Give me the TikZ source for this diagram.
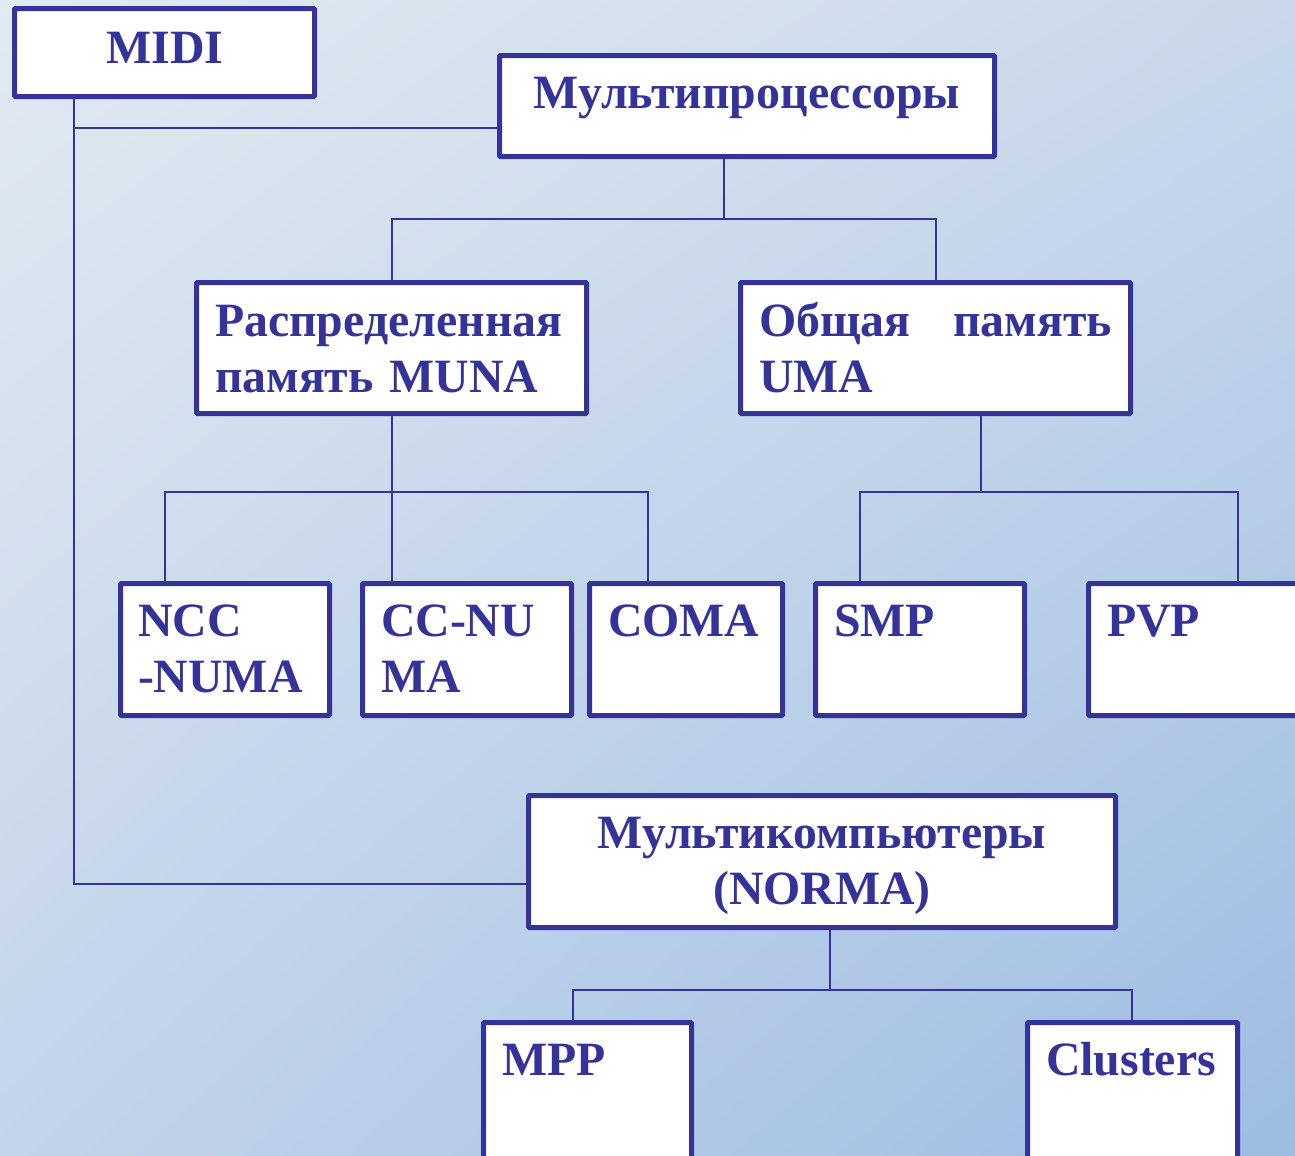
\documentclass[tikz,border=0pt]{standalone}
\usepackage{fontspec}
\setmainfont{Liberation Serif}
\usetikzlibrary{shadings}
\definecolor{ink}{HTML}{333399}
\definecolor{bgA}{HTML}{E2EAF2}
\definecolor{bgB}{HTML}{C9D8EA}
\definecolor{bgC}{HTML}{C3D4E9}
\definecolor{bgD}{HTML}{9CBCE2}
\pgfdeclarelayer{back}
\pgfdeclarelayer{lines}
\pgfsetlayers{back,lines,main}
\newcommand{\dbox}[5]{\node[boxst, anchor=north west, minimum width={(#4-#2-5)*1bp}, minimum height={(#5-#3-5)*1bp}] (#1) at ({#2+2.5},{#3+2.5}) {};}
\begin{document}
\begin{tikzpicture}[x=1bp,y=-1bp,
  boxst/.style={draw=ink, fill=white, line width=5bp, inner sep=0pt, outer sep=0pt, rounded corners=1bp},
  conn/.style={draw=ink, line width=2bp},
  txt/.style={text=ink, inner sep=0pt, outer sep=0pt, anchor=base west, align=left, text width=600bp,
    font=\fontsize{48}{57}\selectfont\bfseries},
  ctxt/.style={txt, anchor=base, align=center}]
\useasboundingbox (0,0) rectangle (1295,1156);
\clip (0,0) rectangle (1295,1156);
\begin{pgfonlayer}{back}
\shade[upper left=bgA, upper right=bgB, lower left=bgC, lower right=bgD] (0,0) rectangle (1295,1156);
\end{pgfonlayer}

% junction coordinates
\coordinate (a1) at (74,884);
\coordinate (a2) at (74,128);
\coordinate (b1) at (724,219);
\coordinate (c1) at (392,492);
\coordinate (d1) at (165,0);
\coordinate (d3) at (648,0);
\coordinate (e1) at (981,492);
\coordinate (e2) at (860,0);
\coordinate (e3) at (1238,0);
\coordinate (f1) at (830,990);
\coordinate (f2) at (573,0);
\coordinate (f3) at (1132,0);

% boxes
\dbox{midi}{12}{6}{317}{99}
\dbox{mp}{497}{53}{997}{159}
\dbox{rasp}{194}{280}{589}{416}
\dbox{obsh}{738}{280}{1133}{416}
\dbox{ncc}{118}{581}{332}{718}
\dbox{ccnu}{360}{581}{574}{718}
\dbox{coma}{587}{581}{785}{718}
\dbox{smp}{813}{581}{1027}{718}
\dbox{pvp}{1086}{581}{1305}{718}
\dbox{mc}{526}{793}{1118}{930}
\dbox{mpp}{481}{1020}{694}{1170}
\dbox{clu}{1025}{1020}{1240}{1170}

% connectors
\begin{pgfonlayer}{lines}
\draw[conn] (midi.south -| a1) -- (a1) -- (a1 -| mc.west);
\draw[conn] (a2) -- (a2 -| mp.west);
\draw[conn] (mp.south -| b1) -- (b1);
\draw[conn] (rasp.north -| c1) |- (b1) -| (obsh.north);
\draw[conn] (rasp.south -| c1) -- (c1);
\draw[conn] (ncc.north -| d1) |- (c1) -| (coma.north -| d3);
\draw[conn] (c1) -- (ccnu.north -| c1);
\draw[conn] (obsh.south -| e1) -- (e1);
\draw[conn] (smp.north -| e2) |- (e1) -| (pvp.north -| e3);
\draw[conn] (mc.south -| f1) -- (f1);
\draw[conn] (mpp.north -| f2) |- (f1) -| (clu.north -| f3);
\end{pgfonlayer}

% texts
\node[ctxt] (tmidi) at (165,63) {MIDI};
\node[ctxt] (tmp) at (747,108) {Мультипроцессоры};
\node[txt] (trasp) at (215,336) {Распределенная\\память MUNA};
\node[txt] (tobsh) at (759,336) {\hbox to 353bp{Общая\hfill память}\\UMA};
\node[txt] (tncc) at (138,636) {NCC\\-NUMA};
\node[txt] (tccnu) at (381,636) {CC-NU\\MA};
\node[txt] (tcoma) at (608,636) {COMA};
\node[txt] (tsmp) at (834,636) {SMP};
\node[txt] (tpvp) at (1107,636) {PVP};
\node[ctxt] (tmc) at (822,848) {Мультикомпьютеры\\(NORMA)};
\node[txt] (tmpp) at (502,1075) {MPP};
\node[txt] (tclu) at (1046,1075) {Clusters};
\end{tikzpicture}
\end{document}
